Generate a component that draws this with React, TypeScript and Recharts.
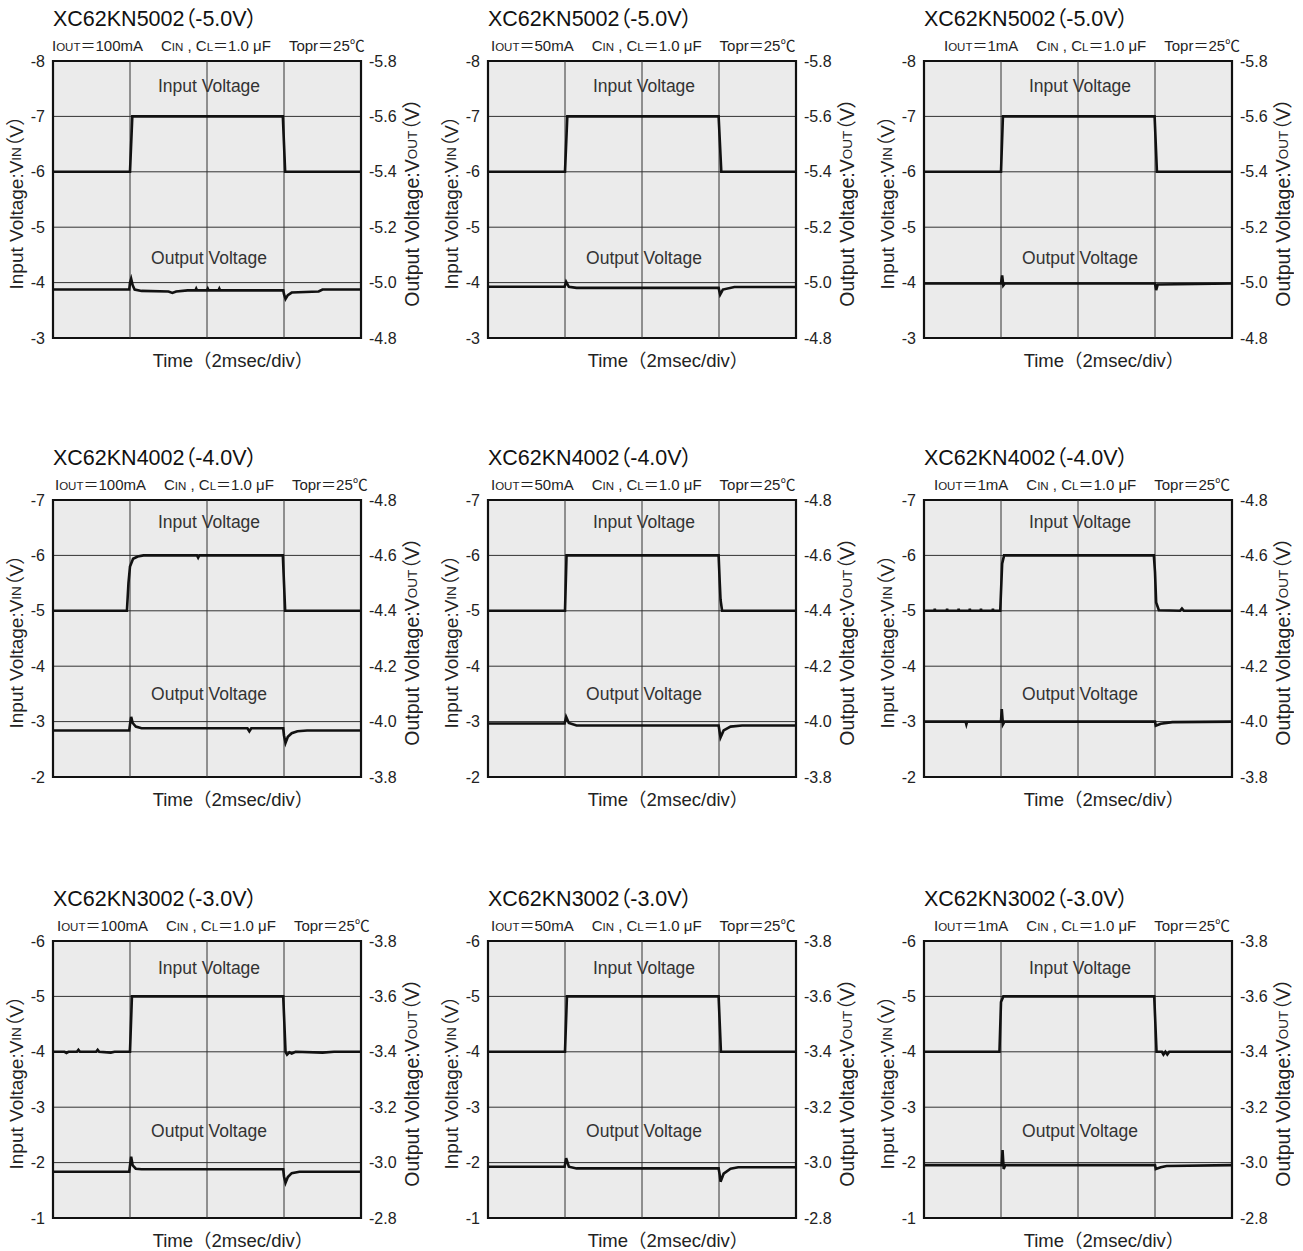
import { CartesianGrid, Line, LineChart, ReferenceArea, ReferenceLine, XAxis, YAxis } from "recharts";

const FONT = '"Liberation Sans", Arial, "Noto Sans CJK JP", sans-serif';

// rows: output voltage version, columns: load current
const titles = ["XC62KN5002（-5.0V）", "XC62KN4002（-4.0V）", "XC62KN3002（-3.0V）"];
const loads = ["100mA", "50mA", "1mA"];

const timeTicks = [0, 2, 4, 6, 8]; // msec, 2 msec/div
const vinTicks = [
  [-8, -7, -6, -5, -4, -3],
  [-7, -6, -5, -4, -3, -2],
  [-6, -5, -4, -3, -2, -1],
];
const voutTicks = [
  [-5.8, -5.6, -5.4, -5.2, -5.0, -4.8],
  [-4.8, -4.6, -4.4, -4.2, -4.0, -3.8],
  [-3.8, -3.6, -3.4, -3.2, -3.0, -2.8],
];

// [time msec, volts]
const vin5_100 = [[0, -6], [2.0, -6], [2.06, -7], [5.97, -7], [6.03, -6], [8, -6]];
const vin5_50 = [[0, -6], [2.0, -6], [2.06, -7], [5.99, -7], [6.06, -6], [8, -6]];
const vin5_1 = [[0, -6], [2.0, -6], [2.05, -7], [5.99, -7], [6.05, -6], [8, -6]];

const vout5_100 = [
  [0, -4.975], [1.98, -4.975], [2.0, -5.0], [2.03, -5.014], [2.07, -4.99], [2.12, -4.975],
  [2.3, -4.97], [3.0, -4.968], [3.1, -4.963], [3.2, -4.968], [3.5, -4.972], [3.7, -4.972],
  [3.72, -4.978], [3.74, -4.972], [4.0, -4.972], [4.02, -4.978], [4.04, -4.972], [4.3, -4.972],
  [4.32, -4.978], [4.34, -4.972], [5.98, -4.972], [6.0, -4.958], [6.04, -4.941], [6.1, -4.955],
  [6.2, -4.964], [6.9, -4.968], [7.0, -4.975], [8, -4.975],
];
const vout5_50 = [
  [0, -4.985], [1.99, -4.985], [2.03, -5.003], [2.1, -4.985], [2.3, -4.981], [5.99, -4.981],
  [6.03, -4.957], [6.1, -4.975], [6.4, -4.984], [8, -4.984],
];
const vout5_1 = [
  [0, -4.997], [2.0, -4.997], [2.03, -5.026], [2.06, -4.99], [2.1, -4.997], [6.0, -4.997],
  [6.03, -4.973], [6.07, -4.993], [8, -4.997],
];

const vin4_100 = [
  [0, -5], [1.92, -5], [1.96, -5.5], [2.0, -5.8], [2.08, -5.94], [2.2, -5.98], [2.35, -6],
  [3.74, -6], [3.77, -5.96], [3.8, -6], [5.97, -6], [6.03, -5], [8, -5],
];
const vin4_50 = [
  [0, -5], [2.0, -5], [2.04, -6], [5.99, -6], [6.02, -5.5], [6.04, -5.2], [6.08, -5], [8, -5],
];
const vin4_1 = [
  [0, -5], [0.27, -5], [0.28, -5.035], [0.29, -5], [0.59, -5], [0.6, -5.035], [0.61, -5],
  [0.89, -5], [0.9, -5.035], [0.91, -5], [1.18, -5], [1.19, -5.035], [1.2, -5], [1.47, -5],
  [1.48, -5.035], [1.49, -5], [1.78, -5], [1.79, -5.035], [1.8, -5], [1.98, -5], [2.03, -5.85],
  [2.08, -6], [5.97, -6], [6.0, -5.7], [6.03, -5.15], [6.1, -5.01], [6.65, -5], [6.7, -5.04],
  [6.75, -5], [8, -5],
];

const vout4_100 = [
  [0, -3.968], [1.98, -3.968], [2.0, -3.99], [2.03, -4.017], [2.07, -3.995], [2.15, -3.982],
  [2.3, -3.976], [5.05, -3.976], [5.1, -3.965], [5.15, -3.976], [5.98, -3.976], [6.0, -3.95],
  [6.04, -3.923], [6.1, -3.945], [6.2, -3.958], [6.35, -3.965], [6.6, -3.968], [8, -3.968],
];
const vout4_50 = [
  [0, -3.993], [1.99, -3.993], [2.03, -4.017], [2.1, -3.995], [2.3, -3.986], [5.99, -3.986],
  [6.02, -3.96], [6.04, -3.943], [6.12, -3.968], [6.3, -3.982], [6.6, -3.986], [8, -3.986],
];
const vout4_1 = [
  [0, -4.0], [1.08, -4.0], [1.1, -3.99], [1.12, -4.0], [2.0, -4.0], [2.02, -4.045],
  [2.05, -3.99], [2.09, -4.0], [6.0, -4.0], [6.02, -3.985], [6.15, -3.992], [6.45, -3.998],
  [8, -4.0],
];

const vin3_100 = [
  [0, -4], [0.3, -4], [0.35, -3.98], [0.4, -4], [0.62, -4], [0.66, -4.035], [0.7, -4],
  [1.12, -4], [1.16, -4.035], [1.2, -4], [1.5, -3.985], [1.6, -4], [2.0, -4], [2.05, -5],
  [5.98, -5], [6.04, -4], [6.08, -3.95], [6.14, -3.99], [6.2, -3.97], [6.3, -4], [7.0, -3.985],
  [7.3, -4], [8, -4],
];
const vin3_50 = [[0, -4], [2.0, -4], [2.05, -5], [5.99, -5], [6.05, -4], [8, -4]];
const vin3_1 = [
  [0, -4], [1.96, -4], [2.0, -4.9], [2.06, -5], [5.98, -5], [6.04, -4], [6.18, -4],
  [6.22, -3.95], [6.27, -4], [6.32, -3.95], [6.37, -4], [8, -4],
];

const vout3_100 = [
  [0, -2.967], [1.98, -2.967], [2.0, -2.99], [2.03, -3.021], [2.07, -2.99], [2.15, -2.978],
  [2.3, -2.976], [5.98, -2.976], [6.0, -2.95], [6.04, -2.927], [6.1, -2.948], [6.2, -2.962],
  [6.4, -2.967], [8, -2.967],
];
const vout3_50 = [
  [0, -2.985], [1.99, -2.985], [2.03, -3.016], [2.1, -2.985], [2.3, -2.979], [5.99, -2.979],
  [6.02, -2.955], [6.04, -2.931], [6.12, -2.96], [6.3, -2.978], [6.5, -2.983], [8, -2.983],
];
const vout3_1 = [
  [0, -2.991], [2.02, -2.991], [2.04, -3.045], [2.07, -2.977], [2.11, -2.991], [6.0, -2.991],
  [6.02, -2.977], [6.15, -2.983], [6.3, -2.988], [8, -2.991],
];

const vinTraces = [
  [vin5_100, vin5_50, vin5_1],
  [vin4_100, vin4_50, vin4_1],
  [vin3_100, vin3_50, vin3_1],
];
const voutTraces = [
  [vout5_100, vout5_50, vout5_1],
  [vout4_100, vout4_50, vout4_1],
  [vout3_100, vout3_50, vout3_1],
];

// layout
const PLOT_W = 308;
const PLOT_H = 277;
const AXIS_L = 53;
const AXIS_R = 62;
const M_TOP = 10;
const XAXIS_H = 34;
const colX = [53, 488, 924];
const rowY = [61, 500, 941];
const subShift = [
  [-1, 3, 20],
  [2, 3, 10],
  [4, 3, 10],
];
const inLabelDy = [25, 22, 27];
const outLabelDy = [197, 194, 190];

const toPts = (arr: number[][]) => arr.map(([t, v]) => ({ t, v }));

const small = { fontSize: 11.5 };

function leftTitle(props: any) {
  const vb = props.viewBox ?? { x: 0, y: M_TOP, width: AXIS_L, height: PLOT_H };
  const cx = vb.x + 16;
  const cy = vb.y + vb.height / 2 + 3;
  return (
    <text
      x={cx}
      y={cy}
      transform={`rotate(-90 ${cx} ${cy})`}
      textAnchor="middle"
      dominantBaseline="central"
      fontSize={19}
      fill="#222"
      fontFamily={FONT}
    >
      Input Voltage:V<tspan fontSize={13.5}>IN</tspan>（V）
    </text>
  );
}

function rightTitle(props: any) {
  const vb = props.viewBox ?? { x: AXIS_L + PLOT_W, y: M_TOP, width: AXIS_R, height: PLOT_H };
  const cx = vb.x + 51;
  const cy = vb.y + vb.height / 2 + 3;
  return (
    <text
      x={cx}
      y={cy}
      transform={`rotate(-90 ${cx} ${cy})`}
      textAnchor="middle"
      dominantBaseline="central"
      fontSize={19.5}
      fill="#222"
      fontFamily={FONT}
    >
      Output Voltage:V<tspan fontSize={13.5}>OUT</tspan>（V）
    </text>
  );
}

function timeTitle(props: any) {
  const vb = props.viewBox ?? { x: AXIS_L, y: M_TOP + PLOT_H, width: PLOT_W, height: XAXIS_H };
  return (
    <text
      x={vb.x + vb.width / 2 + 26}
      y={vb.y + 29}
      textAnchor="middle"
      fontSize={18.5}
      fill="#222"
      fontFamily={FONT}
      style={{ fontFeatureSettings: "normal" }}
    >
      Time（2msec/div）
    </text>
  );
}

function Panel({ row, col }: { row: number; col: number }) {
  const vt = vinTicks[row];
  const ot = voutTicks[row];
  const px = colX[col];
  const py = rowY[row];
  const tick = { fontSize: 16, fill: "#222", fontFamily: FONT };

  return (
    <>
      <div
        style={{
          position: "absolute",
          left: px,
          top: py - 53,
          fontSize: 21.5,
          lineHeight: "22px",
          color: "#111",
          whiteSpace: "nowrap",
        }}
      >
        {titles[row]}
      </div>
      <div
        style={{
          position: "absolute",
          left: px + subShift[row][col],
          top: py - 23,
          fontSize: 15,
          lineHeight: "15px",
          color: "#222",
          whiteSpace: "nowrap",
          display: "flex",
          gap: 18,
          fontFeatureSettings: "normal",
        }}
      >
        <span>
          I<span style={small}>OUT</span>＝{loads[col]}
        </span>
        <span>
          C<span style={small}>IN</span> , C<span style={small}>L</span>＝1.0 μF
        </span>
        <span>Topr＝25℃</span>
      </div>
      <div style={{ position: "absolute", left: px - AXIS_L, top: py - M_TOP }}>
        <LineChart
          width={AXIS_L + PLOT_W + AXIS_R}
          height={M_TOP + PLOT_H + XAXIS_H}
          margin={{ top: M_TOP, right: 0, bottom: 0, left: 0 }}
        >
          <CartesianGrid
            yAxisId="vin"
            vertical={false}
            fill="#ebebeb"
            fillOpacity={1}
            stroke="#333"
            strokeWidth={1}
          />
          <XAxis
            type="number"
            dataKey="t"
            domain={[0, 8]}
            ticks={timeTicks}
            tick={false}
            tickLine={false}
            axisLine={false}
            height={XAXIS_H}
            label={timeTitle}
            allowDuplicatedCategory={false}
          />
          <YAxis
            yAxisId="vin"
            type="number"
            domain={[vt[0], vt[vt.length - 1]]}
            ticks={vt}
            reversed
            width={AXIS_L}
            tick={tick}
            tickLine={false}
            axisLine={false}
            interval={0}
            label={leftTitle}
          />
          <YAxis
            yAxisId="vout"
            orientation="right"
            type="number"
            domain={[ot[0], ot[ot.length - 1]]}
            ticks={ot}
            reversed
            width={AXIS_R}
            tick={tick}
            tickLine={false}
            axisLine={false}
            interval={0}
            tickFormatter={(v: number) => v.toFixed(1)}
            label={rightTitle}
          />
          {timeTicks.slice(1, -1).map((t) => (
            <ReferenceLine key={t} yAxisId="vin" x={t} stroke="#333" strokeWidth={1} />
          ))}
          <ReferenceArea
            yAxisId="vin"
            x1={0}
            x2={8}
            y1={vt[0]}
            y2={vt[vt.length - 1]}
            fill="none"
            stroke="#111"
            strokeWidth={2.2}
          />
          <Line
            yAxisId="vin"
            data={toPts(vinTraces[row][col])}
            dataKey="v"
            type="linear"
            stroke="#111"
            strokeWidth={2.6}
            dot={false}
            activeDot={false}
            isAnimationActive={false}
          />
          <Line
            yAxisId="vout"
            data={toPts(voutTraces[row][col])}
            dataKey="v"
            type="linear"
            stroke="#111"
            strokeWidth={2.6}
            dot={false}
            activeDot={false}
            isAnimationActive={false}
          />
        </LineChart>
      </div>
      <div
        style={{
          position: "absolute",
          left: px + PLOT_W / 2 + 2,
          top: py + inLabelDy[row],
          transform: "translate(-50%, -50%)",
          fontSize: 17.5,
          color: "#333",
          whiteSpace: "nowrap",
        }}
      >
        Input Voltage
      </div>
      <div
        style={{
          position: "absolute",
          left: px + PLOT_W / 2 + 2,
          top: py + outLabelDy[row],
          transform: "translate(-50%, -50%)",
          fontSize: 17.5,
          color: "#333",
          whiteSpace: "nowrap",
        }}
      >
        Output Voltage
      </div>
    </>
  );
}

export default function App() {
  return (
    <div
      style={{
        position: "absolute",
        left: 0,
        top: 0,
        width: 1303,
        height: 1251,
        background: "#fff",
        fontFamily: FONT,
        fontFeatureSettings: '"palt"',
      }}
    >
      {[0, 1, 2].map((row) =>
        [0, 1, 2].map((col) => <Panel key={`${row}-${col}`} row={row} col={col} />)
      )}
    </div>
  );
}
